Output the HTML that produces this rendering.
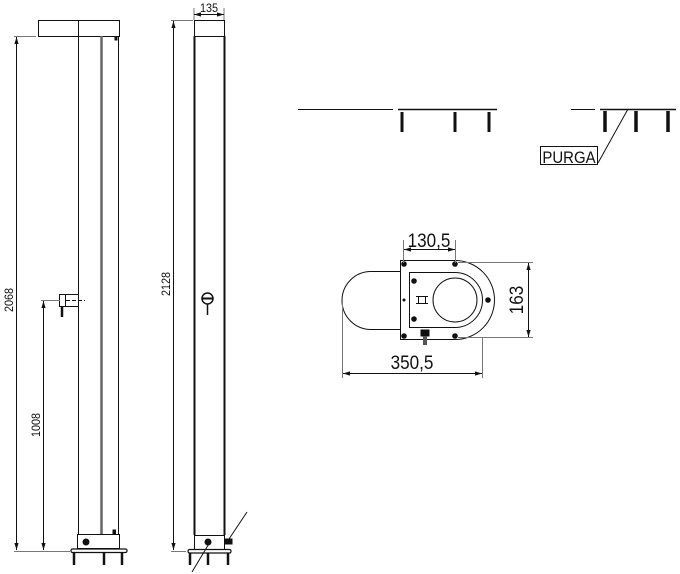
<!DOCTYPE html>
<html><head><meta charset="utf-8"><style>html,body{margin:0;padding:0;background:#fff}svg{display:block}text{font-family:"Liberation Sans",Arial,sans-serif;fill:#111}</style></head>
<body>
<svg width="680" height="574" viewBox="0 0 680 574" xmlns="http://www.w3.org/2000/svg" fill="none" stroke="#111" stroke-width="1">
<defs><marker id="a" viewBox="0 0 10 10" refX="10" refY="5" markerWidth="7" markerHeight="7" orient="auto-start-reverse"><path d="M0,2 L10,5 L0,8" fill="#111" stroke="none"/></marker></defs>
<!-- left view -->
<rect x="38.5" y="20.5" width="81" height="16"/>
<line x1="78.5" y1="20" x2="78.5" y2="534"/>
<line x1="118.5" y1="36" x2="118.5" y2="534"/>
<line x1="101.5" y1="36" x2="101.5" y2="534" stroke="#666" stroke-width="2.5"/>
<rect x="115" y="37" width="2" height="3" fill="#111"/>
<rect x="77.5" y="534.5" width="42" height="14"/>
<circle cx="86" cy="542" r="3" fill="#111"/>
<rect x="113" y="530" width="2.5" height="4" fill="#111"/>
<rect x="71" y="549" width="56" height="3.5" rx="1.5" fill="#fff" stroke-width="1.2"/>
<g stroke-width="2.5"><line x1="74" y1="553" x2="74" y2="565"/><line x1="104" y1="553" x2="104" y2="565"/><line x1="122" y1="553" x2="122" y2="565"/></g>
<rect x="59.5" y="294.5" width="6" height="12"/><rect x="65.5" y="294.5" width="13" height="12"/>
<line x1="62" y1="306" x2="62" y2="317" stroke-width="2.5"/>
<line x1="66" y1="300.5" x2="85" y2="300.5" stroke-dasharray="4,2"/>
<line x1="14" y1="36.5" x2="36" y2="36.5" stroke="#777"/>
<line x1="16.5" y1="37" x2="16.5" y2="550" marker-start="url(#a)" marker-end="url(#a)"/>
<line x1="41" y1="300.5" x2="60" y2="300.5" stroke="#777"/>
<line x1="43.5" y1="301" x2="43.5" y2="550" marker-start="url(#a)" marker-end="url(#a)"/>
<line x1="14" y1="551.5" x2="70" y2="551.5" stroke="#777"/>
<text transform="translate(13,300) rotate(-90) scale(0.9,1)" font-size="12" text-anchor="middle" stroke="none">2068</text>
<text transform="translate(40,425) rotate(-90) scale(0.9,1)" font-size="12" text-anchor="middle" stroke="none">1008</text>
<!-- middle view -->
<rect x="194.5" y="20.5" width="30" height="16"/>
<line x1="194.5" y1="36" x2="194.5" y2="535" stroke-width="2"/>
<line x1="224.5" y1="36" x2="224.5" y2="535" stroke-width="2"/>
<line x1="194" y1="8" x2="194" y2="20" stroke="#777"/><line x1="224" y1="8" x2="224" y2="20" stroke="#777"/>
<line x1="194" y1="14.5" x2="224" y2="14.5" marker-start="url(#a)" marker-end="url(#a)"/>
<text transform="translate(209,12) scale(0.9,1)" font-size="12" text-anchor="middle" stroke="none">135</text>
<line x1="171" y1="20.5" x2="193" y2="20.5" stroke="#777"/>
<line x1="173.5" y1="21" x2="173.5" y2="550" marker-start="url(#a)" marker-end="url(#a)"/>
<line x1="171" y1="551.5" x2="186" y2="551.5" stroke="#777"/>
<text transform="translate(170,284) rotate(-90) scale(0.9,1)" font-size="12" text-anchor="middle" stroke="none">2128</text>
<circle cx="207.5" cy="298.5" r="5.5" stroke-width="1.5"/><line x1="202" y1="298.5" x2="213" y2="298.5" stroke-width="2"/>
<line x1="207.5" y1="304" x2="207.5" y2="315" stroke-width="1.5"/>
<rect x="194.5" y="535.5" width="30" height="14"/>
<circle cx="208" cy="542" r="3" fill="#111"/>
<rect x="225" y="539" width="7" height="5" fill="#111"/>
<rect x="188" y="549.5" width="43" height="3.5" rx="1.5" fill="#fff" stroke-width="1.2"/>
<g stroke-width="2.5"><line x1="190" y1="553" x2="190" y2="565"/><line x1="208" y1="553" x2="208" y2="565"/><line x1="228" y1="553" x2="228" y2="565"/></g>
<line x1="247" y1="512" x2="229" y2="539"/>
<line x1="210" y1="542" x2="192" y2="572"/>
<!-- top right -->
<line x1="298" y1="109.5" x2="393" y2="109.5"/>
<line x1="398" y1="109.5" x2="497" y2="109.5" stroke-width="1.5"/>
<g stroke-width="3"><line x1="402" y1="112" x2="402" y2="132"/><line x1="455" y1="112" x2="455" y2="132"/><line x1="489" y1="112" x2="489" y2="132"/></g>
<line x1="571" y1="109.5" x2="595" y2="109.5"/>
<line x1="600" y1="109.5" x2="676" y2="109.5" stroke-width="1.5"/>
<g stroke-width="3.5"><line x1="605" y1="111" x2="605" y2="132"/><line x1="636" y1="111" x2="636" y2="132"/><line x1="668" y1="111" x2="668" y2="132"/></g>
<line x1="598" y1="163" x2="628" y2="109"/>
<rect x="540.5" y="146.5" width="57" height="18"/>
<text transform="translate(569,163) scale(0.88,1)" font-size="17" text-anchor="middle" stroke="none">PURGA</text>
<!-- plan -->
<path d="M400,271.5 H371 A29,29 0 0 0 371,329.5 H409"/>
<path d="M400.5,260.5 H455 A39.5,39.5 0 0 1 455,339.5 H400.5 Z" fill="#fff"/>
<path d="M409.5,272.5 H455 A27.5,27.5 0 0 1 455,327.5 H409.5 Z"/>
<circle cx="455" cy="300" r="22"/>
<g fill="#111" stroke="none"><circle cx="404" cy="264" r="2.8"/><circle cx="455" cy="264" r="2.8"/><circle cx="404" cy="336" r="2.8"/><circle cx="455" cy="336" r="2.8"/><circle cx="414" cy="281" r="2.8"/><circle cx="414" cy="319" r="2.8"/><circle cx="488" cy="300" r="2.8"/><circle cx="404" cy="300" r="1.5"/></g>
<path d="M416,296.5 H428 M416,303.5 H428 M418.5,297 V303 M425.5,297 V303"/>
<rect x="421" y="330" width="8" height="6" fill="#111"/><rect x="423" y="336" width="4" height="9" fill="#555" stroke="none"/>
<line x1="403.5" y1="240" x2="403.5" y2="263" stroke="#777"/><line x1="455.5" y1="240" x2="455.5" y2="263" stroke="#777"/>
<line x1="404" y1="249.5" x2="455" y2="249.5" marker-start="url(#a)" marker-end="url(#a)"/>
<text transform="translate(429,247) scale(0.9,1)" font-size="19" text-anchor="middle" stroke="none">130,5</text>
<line x1="458" y1="262.5" x2="533" y2="262.5" stroke="#777"/><line x1="458" y1="337.5" x2="533" y2="337.5" stroke="#777"/>
<line x1="528.5" y1="263" x2="528.5" y2="337" marker-start="url(#a)" marker-end="url(#a)"/>
<text transform="translate(523,300) rotate(-90) scale(0.9,1)" font-size="19" text-anchor="middle" stroke="none">163</text>
<line x1="342.5" y1="300" x2="342.5" y2="378" stroke="#777"/><line x1="482.5" y1="338" x2="482.5" y2="378" stroke="#777"/>
<line x1="343" y1="373.5" x2="482" y2="373.5" marker-start="url(#a)" marker-end="url(#a)"/>
<text transform="translate(412,369) scale(0.9,1)" font-size="19" text-anchor="middle" stroke="none">350,5</text>
</svg>
</body></html>
